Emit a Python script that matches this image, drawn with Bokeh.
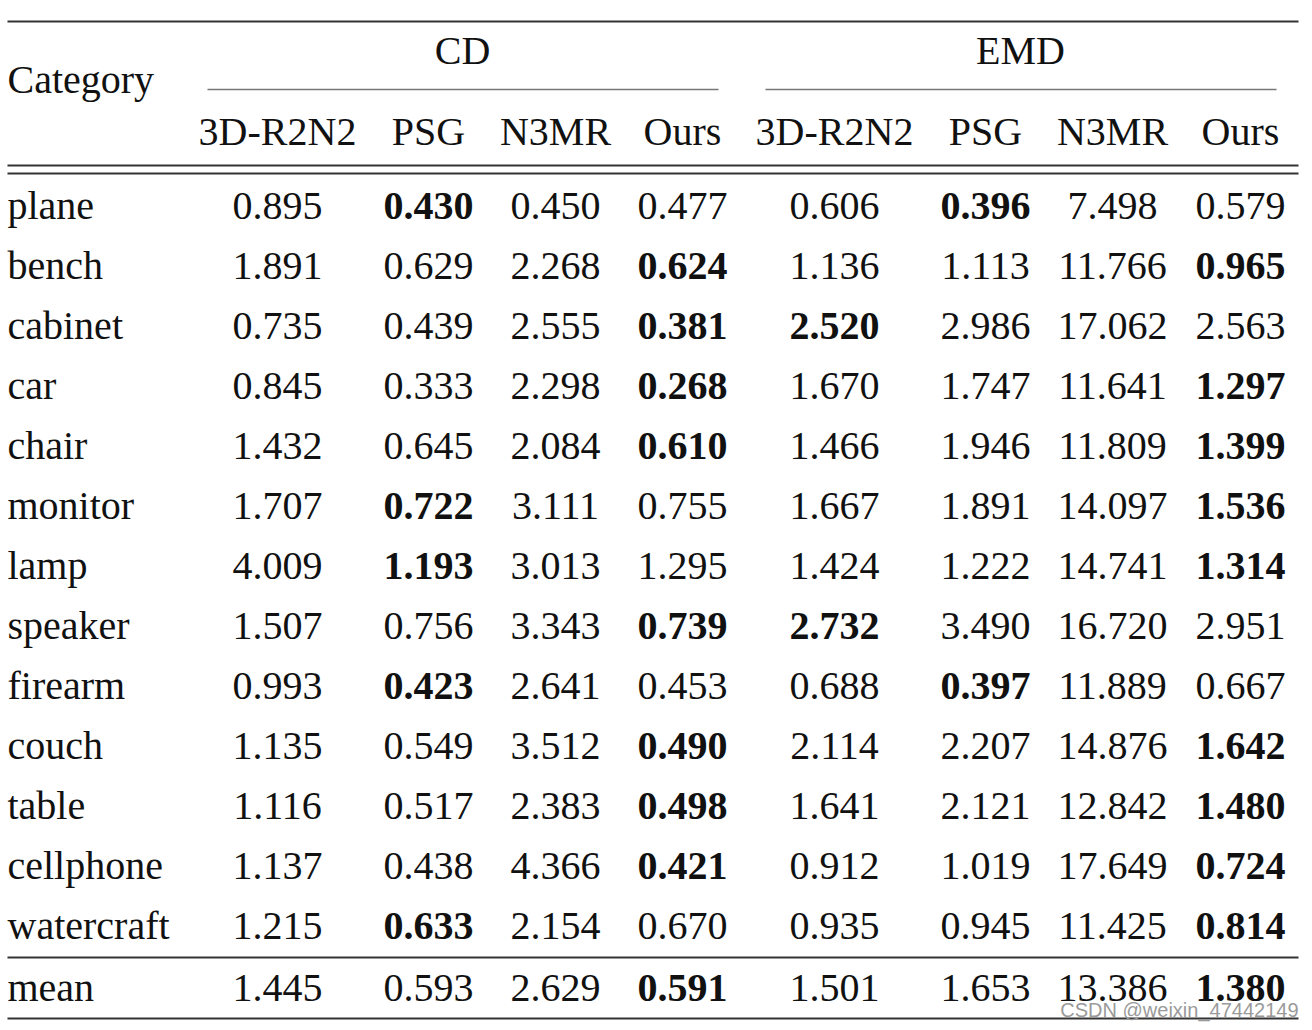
from bokeh.plotting import figure
from bokeh.models import Range1d, ColumnDataSource
from bokeh.core.properties import value
from bokeh.embed import file_html
from bokeh.resources import INLINE

# ---------------- data ----------------
categories = ["plane", "bench", "cabinet", "car", "chair", "monitor", "lamp",
              "speaker", "firearm", "couch", "table", "cellphone", "watercraft", "mean"]
methods = ["3D-R2N2", "PSG", "N3MR", "Ours"]
groups = ["CD", "EMD"]

cd_3dr2n2 = [0.895, 1.891, 0.735, 0.845, 1.432, 1.707, 4.009, 1.507, 0.993, 1.135, 1.116, 1.137, 1.215, 1.445]
cd_psg    = [0.430, 0.629, 0.439, 0.333, 0.645, 0.722, 1.193, 0.756, 0.423, 0.549, 0.517, 0.438, 0.633, 0.593]
cd_n3mr   = [0.450, 2.268, 2.555, 2.298, 2.084, 3.111, 3.013, 3.343, 2.641, 3.512, 2.383, 4.366, 2.154, 2.629]
cd_ours   = [0.477, 0.624, 0.381, 0.268, 0.610, 0.755, 1.295, 0.739, 0.453, 0.490, 0.498, 0.421, 0.670, 0.591]

emd_3dr2n2 = [0.606, 1.136, 2.520, 1.670, 1.466, 1.667, 1.424, 2.732, 0.688, 2.114, 1.641, 0.912, 0.935, 1.501]
emd_psg    = [0.396, 1.113, 2.986, 1.747, 1.946, 1.891, 1.222, 3.490, 0.397, 2.207, 2.121, 1.019, 0.945, 1.653]
emd_n3mr   = [7.498, 11.766, 17.062, 11.641, 11.809, 14.097, 14.741, 16.720, 11.889, 14.876, 12.842, 17.649, 11.425, 13.386]
emd_ours   = [0.579, 0.965, 2.563, 1.297, 1.399, 1.536, 1.314, 2.951, 0.667, 1.642, 1.480, 0.724, 0.814, 1.380]

# index (within each group) of the bold entry per row
cd_best  = [1, 3, 3, 3, 3, 1, 1, 3, 1, 3, 3, 3, 1, 3]
emd_best = [1, 3, 0, 3, 3, 3, 3, 0, 1, 3, 3, 3, 3, 3]

# ---------------- layout ----------------
FONT = "Liberation Serif"
FS = "40px"
TXT = "#111111"
col_x = [277, 428, 555, 682, 834, 985, 1112, 1240]
group_x = [462, 1020]
left_x = 7
right_x = 1298
row0_mid = 205
row_step = 60
mean_mid = 987

W, H = 1304, 1022
p = figure(width=W, height=H, output_backend="svg", toolbar_location=None,
           x_range=Range1d(0, W), y_range=Range1d(H, 0), min_border=0)
p.axis.visible = False
p.grid.visible = False
p.outline_line_color = None
p.background_fill_color = "white"
p.border_fill_color = "white"

# rules
p.segment(x0=[left_x], x1=[right_x], y0=[21], y1=[21], line_color="#333333", line_width=2)
p.segment(x0=[left_x, left_x], x1=[right_x, right_x], y0=[165, 173], y1=[165, 173],
          line_color="#333333", line_width=2)
p.segment(x0=[left_x], x1=[right_x], y0=[957], y1=[957], line_color="#333333", line_width=2)
p.segment(x0=[left_x], x1=[right_x], y0=[1018], y1=[1018], line_color="#333333", line_width=2)
p.segment(x0=[207, 765], x1=[718, 1276], y0=[89, 89], y1=[89, 89],
          line_color="#777777", line_width=1.5)

# headers
p.text(x=[left_x], y=[79], text=["Category"], text_font=value(FONT), text_font_size=FS,
       text_color=TXT, text_align="left", text_baseline="middle")
p.text(x=group_x, y=[50, 50], text=groups,
       text_font=value(FONT), text_font_size=FS, text_color=TXT,
       text_align="center", text_baseline="middle")
p.text(x=col_x, y=[131] * 8, text=methods * 2, text_font=value(FONT), text_font_size=FS,
       text_color=TXT, text_align="center", text_baseline="middle")

# body
series = [cd_3dr2n2, cd_psg, cd_n3mr, cd_ours, emd_3dr2n2, emd_psg, emd_n3mr, emd_ours]
ys = [row0_mid + i * row_step for i in range(len(categories) - 1)] + [mean_mid]

p.text(x=[left_x] * len(categories), y=ys, text=categories, text_font=value(FONT),
       text_font_size=FS, text_color=TXT, text_align="left", text_baseline="middle")

nx, ny, nt, bx, by, bt = [], [], [], [], [], []
for r in range(len(categories)):
    for c, s in enumerate(series):
        bold = (c < 4 and cd_best[r] == c) or (c >= 4 and emd_best[r] == c - 4)
        t = "%.3f" % s[r]
        if bold:
            bx.append(col_x[c]); by.append(ys[r]); bt.append(t)
        else:
            nx.append(col_x[c]); ny.append(ys[r]); nt.append(t)

p.text(x="x", y="y", text="t", source=ColumnDataSource(dict(x=nx, y=ny, t=nt)),
       text_font=value(FONT), text_font_size=FS, text_color=TXT,
       text_align="center", text_baseline="middle")
p.text(x="x", y="y", text="t", source=ColumnDataSource(dict(x=bx, y=by, t=bt)),
       text_font=value(FONT), text_font_size=FS, text_font_style="bold", text_color=TXT,
       text_align="center", text_baseline="middle")

# watermark
p.text(x=[right_x], y=[1009], text=["CSDN @weixin_47442149"], text_font=value("Liberation Sans"),
       text_font_size="20px", text_color="#9a9a9a", text_align="right", text_baseline="middle")

open("out.html", "w").write(file_html(p, INLINE))
